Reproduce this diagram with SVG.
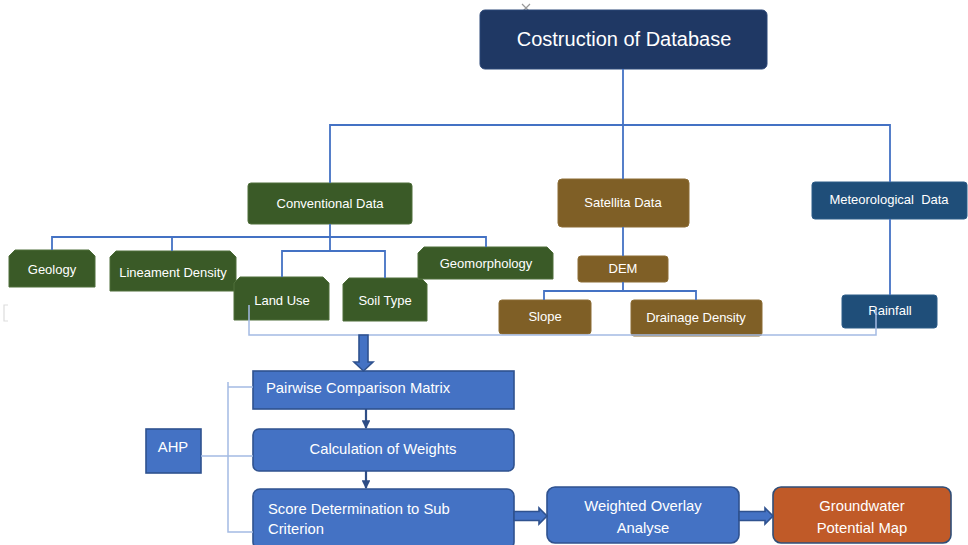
<svg xmlns="http://www.w3.org/2000/svg" width="968" height="545" viewBox="0 0 968 545">
<style>
.t{font-family:"Liberation Sans",Arial,sans-serif;fill:#fff;text-anchor:middle}
.s{font-size:13px}
.c{font-family:"Liberation Sans",Arial,sans-serif;fill:#fff;font-size:14.8px}
.g{fill:#3A5A27;stroke:#4E6E3A;stroke-width:1}
.b{fill:#7F5F26;stroke:#8C6D35;stroke-width:1}
.m{fill:#1F4E79;stroke:#2C5C88;stroke-width:1}
.p{fill:#4472C4;stroke:#2F528F;stroke-width:1.6}
.ln{fill:none;stroke:#4472C4;stroke-width:1.8}
.lt{fill:none;stroke:#A4BBE3;stroke-width:1.5}
.dk{fill:none;stroke:#2F4E86;stroke-width:2.2}
</style>
<defs>
<marker id="ah" viewBox="0 0 8 8" refX="7" refY="4" markerWidth="4" markerHeight="4" orient="auto">
<path d="M0,0 L8,4 L0,8 Z" fill="#2F4E86"/>
</marker>
</defs>
<rect width="968" height="545" fill="#fff"/>
<g id="artifacts" fill="none" stroke="#999" stroke-width="1.2">
<path d="M522,4 L530,12 M530,4 L522,12"/>
<path d="M8,305 H4 V321 H8" stroke="#ddd"/>
</g>
<g id="n-database"><rect x="480" y="10" width="287" height="59" rx="5" fill="#1F3864" stroke="#2B4677"/><text class="t" x="624" y="46" font-size="20">Costruction of Database</text></g>
<g id="n-conventional"><rect class="g" x="248" y="183" width="164" height="41" rx="3"/><text class="t s" x="330" y="208">Conventional Data</text></g>
<g id="n-satellite"><rect class="b" x="558" y="179" width="131" height="48" rx="4"/><text class="t s" x="623" y="207">Satellita Data</text></g>
<g id="n-meteo"><rect class="m" x="812" y="182" width="155" height="37" rx="3"/><text class="t s" x="889" y="204" xml:space="preserve">Meteorological  Data</text></g>
<g id="n-geology"><path class="g" d="M15,250 H89 L95,256 V287 H9 V256 Z"/><text class="t s" x="52" y="274">Geology</text></g>
<g id="n-lineament"><path class="g" d="M116,251 H230 L236,257 V291 H110 V257 Z"/><text class="t s" x="173" y="277">Lineament Density</text></g>
<g id="n-landuse"><path class="g" d="M240,277 H323 L329,283 V320 H234 V283 Z"/><text class="t s" x="282" y="305">Land Use</text></g>
<g id="n-soil"><path class="g" d="M349,278 H421 L427,284 V321 H343 V284 Z"/><text class="t s" x="385" y="305">Soil Type</text></g>
<g id="n-geomorph"><path class="g" d="M424,247 H547 L553,253 V279 H418 V253 Z"/><text class="t s" x="486" y="268">Geomorphology</text></g>
<g id="n-dem"><rect class="b" x="578" y="256" width="90" height="26" rx="3"/><text class="t s" x="623" y="273">DEM</text></g>
<g id="n-slope"><rect class="b" x="499" y="300" width="92" height="34" rx="3"/><text class="t s" x="545" y="321">Slope</text></g>
<g id="n-drainage"><rect class="b" x="631" y="300" width="131" height="36" rx="3"/><text class="t s" x="696" y="322">Drainage Density</text></g>
<g id="n-rainfall"><rect class="m" x="842" y="295" width="95" height="33" rx="3"/><text class="t s" x="890" y="315">Rainfall</text></g>
<g id="n-pairwise"><rect class="p" x="253" y="371" width="261" height="38"/><text class="c" x="266" y="393">Pairwise Comparison Matrix</text></g>
<g id="n-weights"><rect class="p" x="253" y="429" width="261" height="42" rx="6"/><text class="c" x="383" y="454" text-anchor="middle">Calculation of Weights</text></g>
<g id="n-score"><rect class="p" x="253" y="489" width="261" height="60" rx="7"/><text class="c" x="268" y="514">Score Determination to Sub</text><text class="c" x="268" y="534">Criterion</text></g>
<g id="n-ahp"><rect class="p" x="146" y="429" width="55" height="44"/><text class="c" x="173" y="452" text-anchor="middle">AHP</text></g>
<g id="n-overlay"><rect class="p" x="547" y="487" width="192" height="56" rx="8"/><text class="c" x="643" y="511" text-anchor="middle">Weighted Overlay</text><text class="c" x="643" y="533" text-anchor="middle">Analyse</text></g>
<g id="n-gwpm"><rect x="773" y="487" width="178" height="56" rx="8" fill="#C05A28" stroke="#2F4E78" stroke-width="1.6"/><text class="c" x="862" y="511" text-anchor="middle">Groundwater</text><text class="c" x="862" y="533" text-anchor="middle">Potential Map</text></g>
<g id="connectors">
<path class="ln" d="M623,69 V125 M330,183 V125 H890 V182 M623,125 V179"/>
<path class="ln" d="M330,224 V251 M52,250 V237 H486 V247 M172,251 V237 M282,277 V251 H385 V278"/>
<path class="ln" d="M623,227 V256 M623,282 V291 M544,300 V291 H696 V300"/>
<path class="ln" d="M890,219 V295"/>
<path class="lt" d="M249,305 V335 H876 V310"/>
<path class="lt" d="M253,387 H228 M228,382 V532 H253 M201,456 H253"/>
<polygon class="p" points="359,335 368,335 368,362 373,362 363.5,371 354,362 359,362"/>
<path class="dk" d="M366,409 V428" marker-end="url(#ah)"/>
<path class="dk" d="M366,471 V488" marker-end="url(#ah)"/>
<polygon class="p" points="514,511.5 539,511.5 539,508 547,516 539,524 539,520.5 514,520.5"/>
<polygon class="p" points="739,511.5 765,511.5 765,508 773,516 765,524 765,520.5 739,520.5"/>
</g>
</svg>
